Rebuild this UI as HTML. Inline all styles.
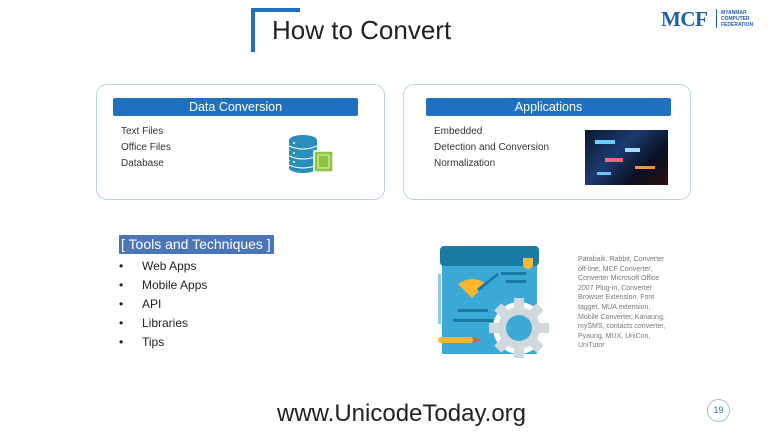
<!DOCTYPE html>
<html><head><meta charset="utf-8"><style>
*{margin:0;padding:0;box-sizing:border-box}
body{width:768px;height:432px;background:#fff;position:relative;overflow:hidden;font-family:"Liberation Sans",sans-serif;color:#333}
.a{position:absolute}
.box{position:absolute;border:1px solid #b9d3dc;border-radius:11px}
.hdr{position:absolute;background:#1f70c1;color:#fff;font-size:12.5px;text-align:center;line-height:18px;border-radius:2px}
.t{position:absolute;font-size:10px;color:#333}
.b{position:absolute;font-size:12px;color:#222}
</style></head><body>
<div class="a" style="left:251px;top:8px;width:4px;height:44px;background:#1f70c1"></div>
<div class="a" style="left:251px;top:8px;width:49px;height:4px;background:#1f70c1"></div>
<div class="a" style="left:272px;top:15px;font-size:26px;color:#222">How to Convert</div>
<div class="a" style="left:661px;top:7px;font-family:'Liberation Serif',serif;font-weight:bold;font-size:21px;color:#1f5fa8;letter-spacing:-0.5px">MCF</div>
<div class="a" style="left:716px;top:9px;width:1px;height:19px;background:#1f5fa8"></div>
<div class="a" style="left:721px;top:10px;font-size:5px;line-height:6px;color:#1f5fa8;font-weight:bold">MYANMAR<br>COMPUTER<br>FEDERATION</div>

<div class="box" style="left:96px;top:84px;width:289px;height:116px"></div>
<div class="hdr" style="left:113px;top:98px;width:245px">Data Conversion</div>
<div class="t" style="left:121px;top:126px">Text Files</div>
<div class="t" style="left:121px;top:142px">Office Files</div>
<div class="t" style="left:121px;top:158px">Database</div>
<svg class="a" style="left:285px;top:132px" width="52" height="44">
<ellipse cx="18" cy="8" rx="14" ry="5" fill="#2a8fb8"/>
<rect x="4" y="8" width="28" height="9" fill="#2a8fb8"/><ellipse cx="18" cy="17" rx="14" ry="5" fill="#2a8fb8"/>
<rect x="4" y="19" width="28" height="8" fill="#2a8fb8"/><ellipse cx="18" cy="27" rx="14" ry="5" fill="#2a8fb8"/>
<rect x="4" y="29" width="28" height="7" fill="#2a8fb8"/><ellipse cx="18" cy="36" rx="14" ry="5" fill="#2a8fb8"/>
<path d="M4 14 q14 6 28 0 M4 24 q14 6 28 0 M4 33 q14 6 28 0" stroke="#fff" stroke-width="1" fill="none"/>
<circle cx="9" cy="11" r="1" fill="#fff"/><circle cx="9" cy="21" r="1" fill="#fff"/><circle cx="9" cy="30" r="1" fill="#fff"/>
<rect x="29" y="19" width="19" height="21" fill="#8cc63f" stroke="#fff" stroke-width="1.5"/>
<rect x="33" y="23" width="11" height="13" fill="none" stroke="#dff0c0" stroke-width="1"/>
</svg>

<div class="box" style="left:403px;top:84px;width:288px;height:116px"></div>
<div class="hdr" style="left:426px;top:98px;width:245px">Applications</div>
<div class="t" style="left:434px;top:126px">Embedded</div>
<div class="t" style="left:434px;top:142px">Detection and Conversion</div>
<div class="t" style="left:434px;top:158px">Normalization</div>
<div class="a" style="left:585px;top:130px;width:83px;height:55px;background:linear-gradient(135deg,#0c1630,#1b3b6e 40%,#0a1024 70%,#2a0e10);overflow:hidden">
<div class="a" style="left:10px;top:10px;width:20px;height:4px;background:#6ad0ff"></div>
<div class="a" style="left:40px;top:18px;width:15px;height:4px;background:#a0e0ff"></div>
<div class="a" style="left:20px;top:28px;width:18px;height:4px;background:#ff6080"></div>
<div class="a" style="left:50px;top:36px;width:20px;height:3px;background:#ff9040"></div>
<div class="a" style="left:12px;top:42px;width:14px;height:3px;background:#70c0ff"></div>
</div>

<div class="a" style="left:119px;top:235px;width:155px;height:19px;background:#4a76b8;color:#fff;font-size:14px;line-height:19px;padding-left:2px">[ Tools and Techniques ]</div>
<div class="b" style="left:119px;top:257px;line-height:19px">•<br>•<br>•<br>•<br>•</div>
<div class="b" style="left:142px;top:257px;line-height:19px">Web Apps<br>Mobile Apps<br>API<br>Libraries<br>Tips</div>

<svg class="a" style="left:438px;top:244px" width="115" height="116">
<rect x="4" y="8" width="95" height="102" fill="#3aa9d6"/>
<rect x="2" y="2" width="99" height="20" rx="4" fill="#1a7aa4"/>
<path d="M85 14 h10 v6 a5 5 0 0 1 -10 0z" fill="#f7b731"/>
<path d="M20 40 q15 -10 28 0 l-14 14z" fill="#f7b731"/>
<line x1="40" y1="46" x2="60" y2="30" stroke="#1a7aa4" stroke-width="3"/>
<rect x="63" y="28" width="25" height="3" fill="#1a7aa4"/><rect x="68" y="36" width="20" height="3" fill="#1a7aa4"/>
<rect x="20" y="65" width="30" height="3" fill="#1a7aa4"/><rect x="15" y="75" width="40" height="3" fill="#1a7aa4"/>
<rect x="0" y="30" width="3" height="50" fill="#8fcbe6"/>
<rect x="0" y="93" width="35" height="6" rx="3" fill="#f7b731"/><path d="M35 93 l8 3 l-8 3z" fill="#e8602c"/>
<g transform="translate(81,84)"><circle r="26" fill="#fff"/>
<g fill="#cfd8dc"><circle r="21"/><rect x="-5" y="-30" width="10" height="60"/><rect x="-30" y="-5" width="60" height="10"/>
<rect x="-5" y="-30" width="10" height="60" transform="rotate(45)"/><rect x="-5" y="-30" width="10" height="60" transform="rotate(-45)"/></g>
<circle r="13" fill="#3aa9d6"/></g>
</svg>
<div class="a" style="left:578px;top:255px;font-size:7px;line-height:9.6px;color:#777;white-space:nowrap">Parabaik, Rabbit, Converter<br>off-line, MCF Converter,<br>Converter Microsoft Office<br>2007 Plug-in, Converter<br>Browser Extension, Font<br>tagger, MUA extension,<br>Mobile Converter, Kanaung,<br>mySMS, contacts converter,<br>Pyaung, MUX, UniCon,<br>UniTutor</div>

<div class="a" style="left:277px;top:400px;font-size:24px;color:#222">www.UnicodeToday.org</div>
<div class="a" style="left:707px;top:399px;width:23px;height:23px;border:1px solid #9cc3da;border-radius:50%;font-size:9px;color:#1f70c1;text-align:center;line-height:21px">19</div>
</body></html>
